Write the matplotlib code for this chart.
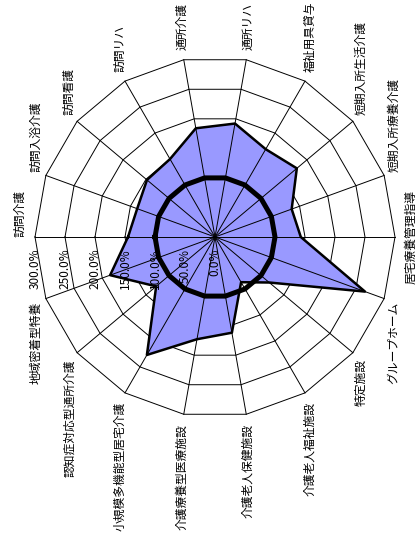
import matplotlib
matplotlib.use('Agg')
import matplotlib.pyplot as plt
import numpy as np

plt.rcParams['font.family'] = ['Noto Sans CJK JP', 'DejaVu Sans']

# カテゴリ（西から時計回り）
categories = ['訪問介護', '訪問入浴介護', '訪問看護', '訪問リハ', '通所介護', '通所リハ',
              '福祉用具貸与', '短期入所生活介護', '短期入所療養介護', '居宅療養管理指導',
              'グループホーム', '特定施設', '介護老人福祉施設', '介護老人保健施設',
              '介護療養型医療施設', '小規模多機能型居宅介護', '認知症対応型通所介護', '地域密着型特養']
ratio = [145, 138, 148, 150, 184, 192, 169, 178, 136, 143,
         266, 118, 87, 162, 173, 227, 128, 186]
baseline = [100, 100, 100, 100, 100, 100, 100, 100, 100, 100,
            100, 100, 100, 100, 100, 100, 100, 100]
ticks = [0, 50, 100, 150, 200, 250, 300]

W, H = 416, 549
cx, cy, rad = 215, 237, 180  # 中心と外周の半径 (px)

fig = plt.figure(figsize=(W / 100, H / 100), dpi=100)
ax = fig.add_axes([(cx - rad) / W, (H - cy - rad) / H, 2 * rad / W, 2 * rad / H],
                  projection='polar')
ax.set_theta_zero_location('W')
ax.set_theta_direction(-1)
ax.set_ylim(0, ticks[-1])
ax.grid(False)
ax.spines['polar'].set_visible(False)
ax.set_xticks([])
ax.set_yticks([])

n = len(categories)
theta = np.arange(n) * 2 * np.pi / n
closed = np.append(theta, theta[0])

# 目盛りの多角形
for t in ticks[1:]:
    ax.plot(closed, [t] * (n + 1), color='black', lw=0.7, zorder=1, clip_on=False)

# データ系列
ax.fill(closed, ratio + ratio[:1], color='#9999ff', lw=0, zorder=2)

# 放射線
for th in theta:
    ax.plot([th, th], [0, ticks[-1]], color='black', lw=0.7, zorder=3, clip_on=False)

ax.plot(closed, ratio + ratio[:1], color='black', lw=1.8, zorder=4, clip_on=False)
ax.plot(closed, baseline + baseline[:1], color='black', lw=3.6, zorder=5)

# 値ラベル
for t in ticks:
    ax.annotate(f'{t:.1f}%', xy=(0, t), xytext=(0, -8.5), textcoords='offset points',
                rotation=90, ha='center', va='top', fontsize=8.5, zorder=6,
                annotation_clip=False)

# 項目ラベル
for th, name in zip(theta, categories):
    s = np.sin(np.pi - th)
    r = 317
    if s > 0.1:
        va = 'bottom'
    elif s < -0.1:
        va = 'top'
    else:
        r = 326
        va = 'bottom' if np.cos(np.pi - th) < 0 else 'center'
    ax.text(th, r, name, rotation=90, ha='center', va=va, fontsize=8.5, clip_on=False)

fig.savefig('out.png', dpi=100)
